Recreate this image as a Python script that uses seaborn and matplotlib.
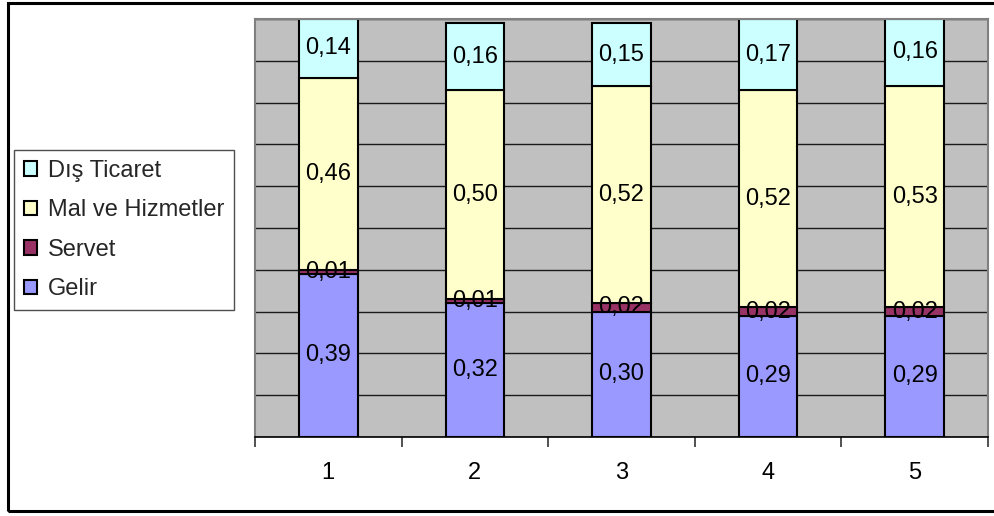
import matplotlib
matplotlib.use("Agg")
import matplotlib.pyplot as plt
from matplotlib.patches import Rectangle, Patch
from matplotlib.ticker import FixedLocator, MultipleLocator
import seaborn as sns
import pandas as pd

# Data: share of each tax component by year group
categories = ["1", "2", "3", "4", "5"]
gelir = [0.39, 0.32, 0.30, 0.29, 0.29]
servet = [0.01, 0.01, 0.02, 0.02, 0.02]
mal_hizmet = [0.46, 0.50, 0.52, 0.52, 0.53]
dis_ticaret = [0.14, 0.16, 0.15, 0.17, 0.16]

series_names = ["Gelir", "Servet", "Mal ve Hizmetler", "Dış Ticaret"]
series_values = [gelir, servet, mal_hizmet, dis_ticaret]
series_colors = ["#9999FF", "#993366", "#FFFFCC", "#CCFFFF"]

sns.set_theme(style="white")
plt.rcParams["font.family"] = ["Liberation Sans", "DejaVu Sans"]

FS = 17

fig = plt.figure(figsize=(9.95, 5.16), dpi=100)
ax = fig.add_axes([255 / 995, 1 - 437 / 516, (988 - 255) / 995, (437 - 19) / 516])
ax.set_facecolor("#C0C0C0")

# horizontal grid every 0.1
ax.yaxis.set_major_locator(MultipleLocator(0.1))
ax.grid(axis="y", color="#1a1a1a", linewidth=1.0)
ax.set_axisbelow(True)

bottom = [0.0] * len(categories)
for name, vals, col in zip(series_names, series_values, series_colors):
    df = pd.DataFrame({"cat": categories, "val": vals})
    sns.barplot(data=df, x="cat", y="val", order=categories, color=col,
                width=0.4, bottom=bottom, edgecolor="black", linewidth=1.5,
                saturation=1, ax=ax, zorder=2)
    for i, v in enumerate(vals):
        ax.text(i, bottom[i] + v / 2, f"{v:.2f}".replace(".", ","),
                ha="center", va="center", fontsize=FS, color="black", zorder=4)
    bottom = [b + v for b, v in zip(bottom, vals)]

ax.set_xlim(-0.5, len(categories) - 0.5)
ax.set_ylim(0, 1.0)
ax.set_xlabel("")
ax.set_ylabel("")
ax.set_yticklabels([])
ax.tick_params(axis="y", left=False, labelleft=False)

# category labels centered, tick marks at category boundaries
ax.tick_params(axis="x", which="major", length=0, pad=18, labelsize=FS, labelcolor="black")
ax.xaxis.set_minor_locator(FixedLocator([i - 0.5 for i in range(len(categories) + 1)]))
ax.tick_params(axis="x", which="minor", length=7, width=1.2, color="#333333",
               direction="out", bottom=True)

for side in ["left", "top", "right"]:
    ax.spines[side].set_visible(True)
    ax.spines[side].set_color("#808080")
    ax.spines[side].set_linewidth(1.5)
ax.spines["bottom"].set_color("black")
ax.spines["bottom"].set_linewidth(1.2)

# legend on the left, top series first
handles = [Patch(facecolor=c, edgecolor="black", linewidth=1.5)
           for c in series_colors][::-1]
leg = fig.legend(handles, series_names[::-1], loc="upper left",
                 bbox_to_anchor=(14 / 995, 1 - 150 / 516), fontsize=FS,
                 frameon=True, fancybox=False, borderpad=0.42,
                 labelspacing=0.74, handlelength=0.55, handleheight=0.55,
                 handletextpad=0.45, borderaxespad=0)
leg.get_frame().set_edgecolor("#222222")
leg.get_frame().set_linewidth(1.0)

# outer chart frame
fig.patches.append(Rectangle((8 / 995, 1 - 511 / 516), (1000 - 8) / 995, (511 - 3) / 516,
                             transform=fig.transFigure, fill=False,
                             edgecolor="black", linewidth=2.2))

fig.savefig("out.png", dpi=100)
